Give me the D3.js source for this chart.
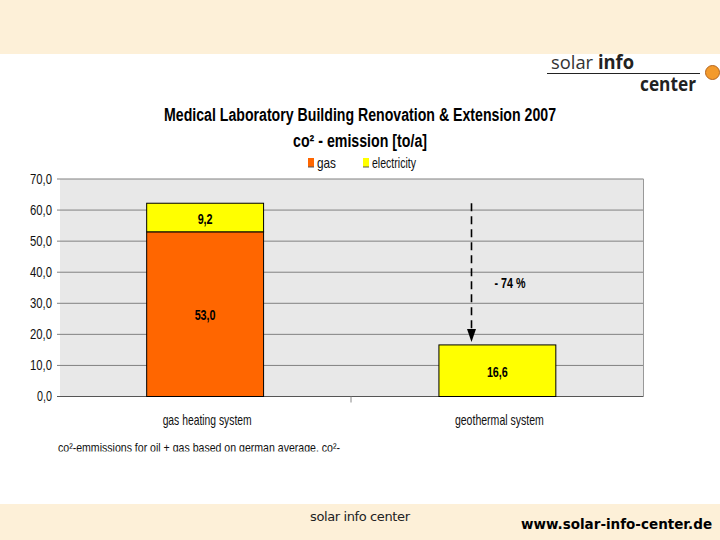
<!DOCTYPE html>
<html>
<head>
<meta charset="utf-8">
<script src="https://d3js.org/d3.v7.min.js"></script>
<style>
html, body { margin: 0; padding: 0; background: #fff; }
svg { display: block; }
text { font-family: "Liberation Sans", Arial, sans-serif; fill: #000; }
</style>
</head>
<body>
<svg id="chart" width="720" height="540"></svg>
<script>
// chart values
var categories = ["gas heating system", "geothermal system"];
var gasValues = [53.0, 0];
var electricityValues = [9.2, 16.6];
var yTicks = [0, 10, 20, 30, 40, 50, 60, 70];
var legendNames = ["gas", "electricity"];
var seriesColors = ["#ff6600", "#ffff00"];
var reductionLabel = "- 74 %";

var svg = d3.select("#chart");
var fmt = function (v) { return v.toFixed(1).replace(".", ","); };

// header and footer bands
svg.append("rect").attr("x", 0).attr("y", 0).attr("width", 720).attr("height", 54).attr("fill", "#fdf0d8");
svg.append("rect").attr("x", 0).attr("y", 504).attr("width", 720).attr("height", 36).attr("fill", "#fdf0d8");

// logo
var logoSolar = svg.append("text").attr("x", 551).attr("y", 69).attr("font-size", 19)
  .style("font-family", "'Open Sans', sans-serif")
  .attr("textLength", 83).attr("lengthAdjust", "spacingAndGlyphs");
logoSolar.append("tspan").style("fill", "#333").text("solar ");
logoSolar.append("tspan").attr("font-weight", "bold").style("fill", "#222").text("info");
svg.append("line").attr("x1", 547).attr("x2", 700).attr("y1", 73.5).attr("y2", 73.5).attr("stroke", "#222").attr("stroke-width", 1);
svg.append("text").attr("x", 640).attr("y", 91).attr("font-size", 19).attr("font-weight", "bold")
  .attr("textLength", 56).attr("lengthAdjust", "spacingAndGlyphs")
  .style("font-family", "'Open Sans', sans-serif").style("fill", "#222").text("center");
svg.append("circle").attr("cx", 712.5).attr("cy", 72.5).attr("r", 7).attr("fill", "#f39a2b").attr("stroke", "#b5651d").attr("stroke-width", 1);

// titles
svg.append("text").attr("x", 360).attr("y", 121).attr("text-anchor", "middle").attr("font-size", 18)
  .attr("font-weight", "bold").attr("textLength", 392).attr("lengthAdjust", "spacingAndGlyphs")
  .text("Medical Laboratory Building Renovation & Extension 2007");
svg.append("text").attr("x", 360).attr("y", 147).attr("text-anchor", "middle").attr("font-size", 18)
  .attr("font-weight", "bold").attr("textLength", 134).attr("lengthAdjust", "spacingAndGlyphs")
  .text("co² - emission [to/a]");

// scales
var margin = { left: 59, right: 643.5, top: 179, bottom: 396.5 };
var x = d3.scaleBand().domain(categories).range([margin.left, margin.right]).paddingInner(0.6).paddingOuter(0.3);
var y = d3.scaleLinear().domain([0, 70]).range([margin.bottom, margin.top]);

// plot background
svg.append("rect").attr("x", margin.left + 1).attr("y", margin.top)
  .attr("width", margin.right - margin.left - 1).attr("height", margin.bottom - margin.top).attr("fill", "#e8e8e8");

// gridlines and y axis
var yAxis = d3.axisLeft(y).tickValues(yTicks).tickFormat(fmt).tickSize(0).tickPadding(7);
var yG = svg.append("g").attr("transform", "translate(" + margin.left + ",0)").call(yAxis);
yG.select(".domain").remove();
yG.selectAll("text").attr("font-family", "'Liberation Sans', sans-serif").attr("font-size", 14).style("fill", "#111")
  .attr("textLength", function (d) { return d === 0 ? 15 : 22; }).attr("lengthAdjust", "spacingAndGlyphs");
svg.append("g").selectAll("line").data(yTicks).join("line")
  .attr("x1", margin.left - 2).attr("x2", margin.right)
  .attr("y1", function (d) { return y(d); }).attr("y2", function (d) { return y(d); })
  .attr("stroke", function (d) { return d === 0 ? "#555" : "#808080"; }).attr("stroke-width", 1);
svg.append("line").attr("x1", margin.right).attr("x2", margin.right).attr("y1", margin.top).attr("y2", margin.bottom).attr("stroke", "#999");
svg.append("line").attr("x1", 351).attr("x2", 351).attr("y1", margin.bottom).attr("y2", margin.bottom + 6).attr("stroke", "#888");

// stacked bars
var rows = categories.map(function (c, i) { return { cat: c, gas: gasValues[i], electricity: electricityValues[i] }; });
var stacked = d3.stack().keys(["gas", "electricity"])(rows);
var layers = svg.append("g").selectAll("g").data(stacked).join("g").attr("fill", function (d, i) { return seriesColors[i]; });
layers.selectAll("rect").data(function (d) { return d.filter(function (p) { return p[1] > p[0]; }); }).join("rect")
  .attr("x", function (d) { return x(d.data.cat); })
  .attr("width", x.bandwidth())
  .attr("y", function (d) { return y(d[1]); })
  .attr("height", function (d) { return y(d[0]) - y(d[1]); })
  .attr("stroke", "#000").attr("stroke-width", 1);
layers.selectAll("text").data(function (d) { return d.filter(function (p) { return p[1] > p[0]; }); }).join("text")
  .attr("x", function (d) { return x(d.data.cat) + x.bandwidth() / 2; })
  .attr("y", function (d) { return y((d[0] + d[1]) / 2) + 6; })
  .attr("text-anchor", "middle").attr("font-size", 15).attr("font-weight", "bold")
  .attr("textLength", function (d) { return fmt(d[1] - d[0]).length === 3 ? 15 : 21; })
  .attr("lengthAdjust", "spacingAndGlyphs")
  .text(function (d) { return fmt(d[1] - d[0]); });

// category labels
svg.append("g").selectAll("text").data(categories).join("text")
  .attr("x", function (d) { return x(d) + x.bandwidth() / 2 + 2; })
  .attr("y", 425).attr("text-anchor", "middle").attr("font-size", 15).style("fill", "#111")
  .attr("textLength", 89).attr("lengthAdjust", "spacingAndGlyphs")
  .text(function (d) { return d; });

// legend
var legendX = [308, 363];
legendNames.forEach(function (n, i) {
  svg.append("rect").attr("x", legendX[i]).attr("y", 158).attr("width", 6).attr("height", 9).attr("fill", seriesColors[i]);
  svg.append("line").attr("x1", legendX[i]).attr("x2", legendX[i] + 6).attr("y1", 167).attr("y2", 167).attr("stroke", "#555").attr("stroke-width", 1);
  svg.append("text").attr("x", legendX[i] + 9).attr("y", 168).attr("font-size", 15).style("fill", "#111").text(n)
    .attr("textLength", i === 0 ? 19 : 44).attr("lengthAdjust", "spacingAndGlyphs");
});

// reduction arrow, from the top of the first stack down to the second
var arrowX = 471.5;
svg.append("line").attr("x1", arrowX).attr("x2", arrowX)
  .attr("y1", y(62.2)).attr("y2", y(16.6) - 14)
  .attr("stroke", "#000").attr("stroke-width", 1.6).attr("stroke-dasharray", "8 5");
svg.append("path").attr("d", d3.line()([[arrowX - 4.5, y(16.6) - 16], [arrowX + 4.5, y(16.6) - 16], [arrowX, y(16.6) - 3]])).attr("fill", "#000");
svg.append("text").attr("x", 510).attr("y", 288).attr("text-anchor", "middle").attr("font-size", 15).attr("font-weight", "bold")
  .attr("textLength", 31).attr("lengthAdjust", "spacingAndGlyphs").text(reductionLabel);

// footnote, clipped at the bottom as in the picture
svg.append("clipPath").attr("id", "noteClip").append("rect").attr("x", 50).attr("y", 438).attr("width", 300).attr("height", 13.5);
svg.append("text").attr("x", 58).attr("y", 452).attr("font-size", 13).style("fill", "#111").attr("clip-path", "url(#noteClip)")
  .attr("textLength", 282).attr("lengthAdjust", "spacingAndGlyphs")
  .text("co²-emmissions for oil + gas based on german average, co²-");

// footer texts
svg.append("text").attr("x", 310).attr("y", 521).attr("font-size", 13)
  .style("fill", "#222").style("font-family", "'DejaVu Sans', sans-serif").attr("textLength", 100).text("solar info center");
svg.append("text").attr("x", 521).attr("y", 529).attr("font-size", 13.5).attr("font-weight", "bold")
  .style("font-family", "'DejaVu Sans', sans-serif").text("www.solar-info-center.de");
</script>
</body>
</html>
